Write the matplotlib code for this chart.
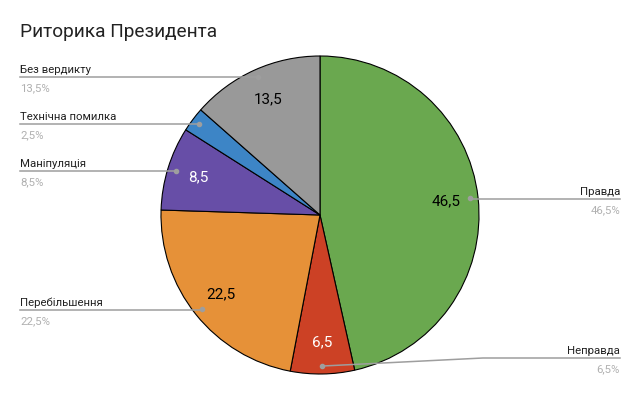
import numpy as np
import matplotlib
matplotlib.use("Agg")
import matplotlib.pyplot as plt

plt.rcParams['font.family'] = ['Roboto', 'DejaVu Sans']

title = "Риторика Президента"
categories = ["Правда", "Неправда", "Перебільшення", "Маніпуляція", "Технічна помилка", "Без вердикту"]
values = [46.5, 6.5, 22.5, 8.5, 2.5, 13.5]
colors = ["#6aa84f", "#cc4125", "#e69138", "#674ea7", "#3d85c6", "#999999"]
value_text_colors = ["black", "white", "black", "white", "white", "black"]
show_value = [True, True, True, True, False, True]

W, H = 640, 395
fig = plt.figure(figsize=(W / 100, H / 100), dpi=100)
ax = fig.add_axes([0, 0, 1, 1])

def Y(y):
    return H - y

cx, cy, R = 320, 215, 159
ax.pie(values, colors=colors, startangle=90, counterclock=False,
       center=(cx, Y(cy)), radius=R,
       wedgeprops=dict(edgecolor="black", linewidth=0.8))
ax.set_xlim(0, W)
ax.set_ylim(0, H)
ax.set_aspect('equal', adjustable='box')
ax.axis('off')

total = sum(values)
cum = np.cumsum([0] + values)
mids = [(cum[i] + values[i] / 2) / total * 360 for i in range(len(values))]

def pt(angle_deg, frac):
    a = np.deg2rad(angle_deg)
    return cx + R * frac * np.sin(a), cy - R * frac * np.cos(a)

# value labels inside slices
for i, v in enumerate(values):
    if not show_value[i]:
        continue
    x, y = pt(mids[i], 0.8)
    ax.text(x, Y(y), f"{v:g}".replace(".", ","), ha="center", va="center",
            fontsize=11, color=value_text_colors[i])

# title
fig.text(20 / W, 1 - 37 / H, title, fontsize=13.7, color="#222222",
         ha="left", va="baseline")

line_color = "#9e9e9e"
label_color = "#222222"
pct_color = "#b0b0b0"

left_layout = {5: 77, 4: 124, 3: 171, 2: 310}
right_layout = {0: 199, 1: 358}
fs = 8.2

for i, ly in left_layout.items():
    dx, dy = pt(mids[i], 0.95)
    ax.plot([20, dx], [Y(ly), Y(ly)], color=line_color, lw=1.1)
    ax.plot([dx], [Y(dy)], 'o', color=line_color, ms=3)
    ax.text(20, Y(ly - 4), categories[i], fontsize=fs, color=label_color,
            ha="left", va="baseline")
    ax.text(20, Y(ly + 14), f"{values[i]:g}%".replace(".", ","), fontsize=fs,
            color=pct_color, ha="left", va="baseline")

for i, ly in right_layout.items():
    dx, dy = pt(mids[i], 0.95)
    if abs(dy - ly) < 3:
        ax.plot([dx, 620], [Y(ly), Y(ly)], color=line_color, lw=1.1)
    else:
        ax.plot([dx, 483, 620], [Y(dy), Y(ly), Y(ly)], color=line_color, lw=1.1)
    ax.plot([dx], [Y(dy)], 'o', color=line_color, ms=3)
    ax.text(620, Y(ly - 4), categories[i], fontsize=fs, color=label_color,
            ha="right", va="baseline")
    ax.text(620, Y(ly + 14), f"{values[i]:g}%".replace(".", ","), fontsize=fs,
            color=pct_color, ha="right", va="baseline")

fig.savefig("out.png", dpi=100, facecolor="white")
